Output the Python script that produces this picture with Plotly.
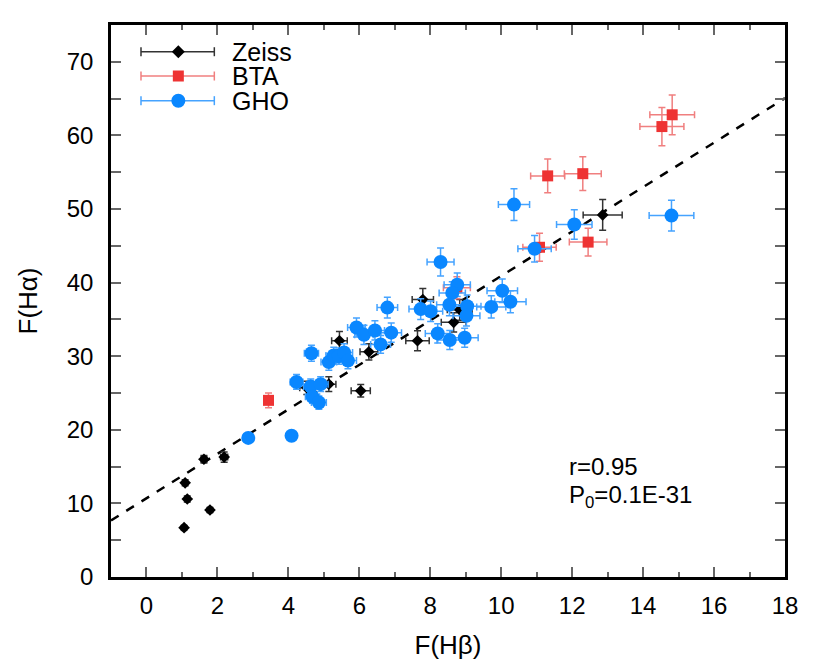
import plotly.graph_objects as go

# Zeiss (black diamonds)
zeiss_x = [1.06, 1.15, 1.09, 1.79, 1.62, 2.19, 4.52, 5.14, 5.44, 6.04, 6.27, 7.64, 7.79, 8.66, 8.83, 12.86]
zeiss_y = [6.7, 10.6, 12.8, 9.1, 16.0, 16.3, 25.7, 26.2, 32.1, 25.3, 30.6, 32.1, 37.7, 34.6, 36.3, 49.2]
zeiss_xerr = [0.05, 0.05, 0.05, 0.07, 0.08, 0.10, 0.20, 0.20, 0.22, 0.27, 0.25, 0.33, 0.30, 0.35, 0.35, 0.55]
zeiss_yerr = [0.3, 0.4, 0.4, 0.3, 0.5, 0.7, 0.9, 1.0, 1.25, 0.85, 1.1, 1.35, 1.5, 1.3, 1.4, 2.1]

# BTA (red squares)
bta_x = [3.44, 8.75, 11.08, 11.31, 12.30, 12.45, 14.53, 14.82]
bta_y = [24.0, 39.3, 44.8, 54.5, 54.8, 45.5, 61.2, 62.8]
bta_xerr = [0.05, 0.38, 0.47, 0.48, 0.52, 0.53, 0.62, 0.63]
bta_yerr = [1.0, 1.5, 1.9, 2.3, 2.3, 1.9, 2.6, 2.7]

# GHO (blue circles)
gho_x = [2.87, 4.09, 4.23, 4.65, 4.63, 4.91, 4.68, 4.86, 5.14, 5.28, 5.42, 5.57, 5.68,
         5.92, 6.13, 6.44, 6.90, 6.60, 6.79, 7.73, 8.01, 8.21, 8.55, 8.97, 8.29, 8.76,
         8.62, 8.54, 9.04, 9.02, 9.72, 10.03, 10.26, 10.94, 10.36, 12.06, 14.80]
gho_y = [18.9, 19.2, 26.5, 30.4, 25.9, 26.2, 24.5, 23.7, 29.2, 30.1, 30.0, 30.5, 29.4,
         33.9, 32.9, 33.5, 33.2, 31.6, 36.6, 36.4, 36.1, 33.1, 32.2, 32.5, 42.8, 39.7,
         38.6, 37.0, 36.8, 35.5, 36.7, 38.9, 37.4, 44.6, 50.6, 47.9, 49.1]
gho_xerr = [0.10, 0.10, 0.18, 0.20, 0.20, 0.21, 0.20, 0.21, 0.22, 0.22, 0.23, 0.24, 0.24,
            0.25, 0.26, 0.27, 0.29, 0.28, 0.29, 0.33, 0.34, 0.35, 0.36, 0.38, 0.38, 0.37,
            0.37, 0.36, 0.39, 0.38, 0.41, 0.43, 0.44, 0.47, 0.44, 0.50, 0.63]
gho_yerr = [0.5, 0.5, 1.0, 1.1, 1.0, 1.0, 0.9, 0.9, 1.1, 1.1, 1.1, 1.2, 1.1,
            1.3, 1.3, 1.3, 1.3, 1.2, 1.4, 1.4, 1.4, 1.3, 1.3, 1.3, 1.9, 1.6,
            1.5, 1.5, 1.5, 1.4, 1.5, 1.6, 1.5, 1.8, 2.15, 2.0, 2.1]

# linear fit shown as dashed line
fit_slope = 3.02
fit_intercept = 10.7
x_range = [-1, 18]
y_range = [0, 75]

FONT = "Liberation Sans, Arial, Helvetica, sans-serif"

series = [
    ("Zeiss", zeiss_x, zeiss_y, zeiss_xerr, zeiss_yerr, "diamond", 9, "black", "#333333"),
    ("BTA", bta_x, bta_y, bta_xerr, bta_yerr, "square", 11, "#ee3333", "#f07f7f"),
    ("GHO", gho_x, gho_y, gho_xerr, gho_yerr, "circle", 14, "#0a87ff", "#45a3ff"),
]

fig = go.Figure()

fig.add_trace(
    go.Scatter(
        x=x_range,
        y=[fit_intercept + fit_slope * v for v in x_range],
        mode="lines",
        line=dict(color="black", width=2.5, dash="dash"),
        showlegend=False,
        hoverinfo="skip",
    )
)

for name, xs, ys, xe, ye, sym, size, col, ecol in series:
    fig.add_trace(
        go.Scatter(
            x=xs,
            y=ys,
            mode="markers",
            name=name,
            marker=dict(symbol=sym, size=size, color=col, line=dict(width=0)),
            error_x=dict(type="data", array=xe, color=ecol, thickness=1.5, width=3.5),
            error_y=dict(type="data", array=ye, color=ecol, thickness=1.5, width=3.5),
            showlegend=False,
        )
    )

# hand-built legend (error bar line + marker + label), in paper coords
leg_rows = [0.9516, 0.9076, 0.8629]
leg_x0, leg_x1, leg_xm, leg_xt = 0.0445, 0.1533, 0.0999, 0.1766
shapes = []
annotations = []
for (name, xs, ys, xe, ye, sym, size, col, ecol), ly in zip(series, leg_rows):
    shapes.append(dict(type="line", xref="paper", yref="paper", x0=leg_x0, x1=leg_x1,
                       y0=ly, y1=ly, line=dict(color=ecol, width=1.5)))
    for cx in (leg_x0, leg_x1):
        shapes.append(dict(type="line", xref="paper", yref="paper", xsizemode="pixel",
                           ysizemode="pixel", xanchor=cx, yanchor=ly, x0=0, x1=0,
                           y0=-4.5, y1=4.5, line=dict(color=ecol, width=1.5)))
    common = dict(xref="paper", yref="paper", xsizemode="pixel", ysizemode="pixel",
                  xanchor=leg_xm, yanchor=ly, fillcolor=col, line=dict(width=0))
    if sym == "diamond":
        shapes.append(dict(type="path", path="M0,6.5 L6.5,0 L0,-6.5 L-6.5,0 Z", **common))
    elif sym == "square":
        shapes.append(dict(type="rect", x0=-5.5, x1=5.5, y0=-5.5, y1=5.5, **common))
    else:
        shapes.append(dict(type="circle", x0=-7, x1=7, y0=-7, y1=7, **common))
    annotations.append(dict(xref="paper", yref="paper", x=leg_xt, y=ly, text=name,
                            showarrow=False, xanchor="left", yanchor="middle",
                            font=dict(size=25, color="black", family=FONT)))

annotations.append(dict(xref="paper", yref="paper", x=0.6766, y=0.1993, text="r=0.95",
                        showarrow=False, xanchor="left", yanchor="middle",
                        font=dict(size=24, color="black", family=FONT)))
annotations.append(dict(xref="paper", yref="paper", x=0.6766, y=0.145,
                        text="P<sub>0</sub>=0.1E-31",
                        showarrow=False, xanchor="left", yanchor="middle",
                        font=dict(size=24, color="black", family=FONT)))

axis_common = dict(
    showline=True,
    linecolor="black",
    linewidth=2.5,
    mirror="ticks",
    ticks="inside",
    ticklen=10,
    tickwidth=1.5,
    tickcolor="#666666",
    showgrid=False,
    zeroline=False,
    automargin=False,
    tickfont=dict(size=24, color="black", family=FONT),
)

# the page body adds an 8px offset, so the figure is sized to fit the window
fig.update_layout(
    width=822,
    height=652,
    autosize=False,
    margin=dict(l=103, r=45, t=17, b=83),
    plot_bgcolor="white",
    paper_bgcolor="white",
    font=dict(family=FONT, color="black"),
    showlegend=False,
    shapes=shapes,
    annotations=annotations,
    xaxis=dict(
        range=x_range,
        tick0=0,
        dtick=2,
        minor=dict(dtick=1, ticks="inside", ticklen=5, tickwidth=1.5, tickcolor="#666666"),
        ticklabelstandoff=5,
        title=dict(text="F(Hβ)", font=dict(size=26, family=FONT), standoff=19),
        **axis_common,
    ),
    yaxis=dict(
        range=y_range,
        tick0=0,
        dtick=10,
        minor=dict(dtick=5, ticks="inside", ticklen=10, tickwidth=1.5, tickcolor="#666666"),
        ticklabelstandoff=10,
        title=dict(text="F(Hα)", font=dict(size=26, family=FONT), standoff=22),
        **axis_common,
    ),
)

fig.write_html("out.html")
